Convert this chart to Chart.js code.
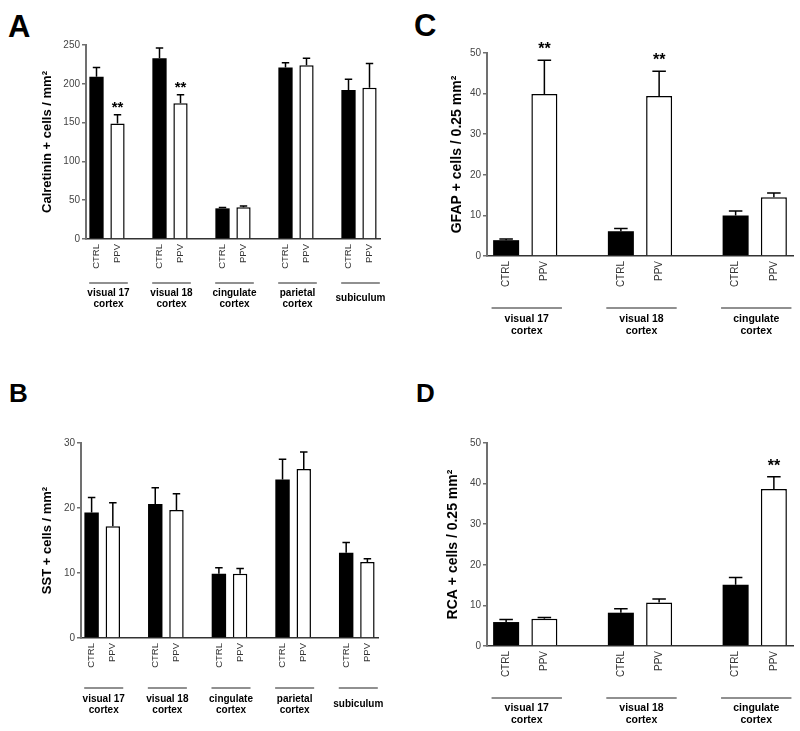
<!DOCTYPE html>
<html>
<head>
<meta charset="utf-8">
<script src="https://cdn.jsdelivr.net/npm/chart.js@4.4.1/dist/chart.umd.min.js"></script>
<style>
  body { margin: 0; background: #fff; }
  #wrap { position: relative; width: 800px; height: 731px; overflow: hidden; }
  canvas { position: absolute; }
  .letter { position: absolute; font-family: 'Liberation Sans', Arial, sans-serif; font-weight: bold; line-height: 1; color: #000; }
</style>
</head>
<body>
<div id="wrap">
  <div class="letter" style="left:8px;top:11px;font-size:31px">A</div>
  <div class="letter" style="left:414px;top:10px;font-size:31px">C</div>
  <div class="letter" style="left:9px;top:380px;font-size:26px">B</div>
  <div class="letter" style="left:416px;top:380px;font-size:26px">D</div>
  <canvas id="chartA" width="400" height="360" style="left:0;top:0"></canvas>
  <canvas id="chartC" width="400" height="360" style="left:400px;top:0"></canvas>
  <canvas id="chartB" width="400" height="371" style="left:0;top:360px"></canvas>
  <canvas id="chartD" width="400" height="371" style="left:400px;top:360px"></canvas>
</div>
<script>
const FONT = "'Liberation Sans', Arial, sans-serif";

const regionsFive = [["visual 17", "cortex"], ["visual 18", "cortex"], ["cingulate", "cortex"], ["parietal", "cortex"], ["subiculum"]];
const regionsThree = [["visual 17", "cortex"], ["visual 18", "cortex"], ["cingulate", "cortex"]];

// A - calretinin
const calretininCtrl = [209, 233, 39.5, 221, 192];
const calretininCtrlErr = [12, 13, 1.2, 6, 14];
const calretininPpv = [149, 175, 41, 224, 195];
const calretininPpvErr = [11, 11, 1.5, 9, 31];
const calretininSig = ["**", "**", "", "", ""];

// B - SST
const sstCtrl = [19.3, 20.6, 9.9, 24.4, 13.1];
const sstCtrlErr = [2.3, 2.5, 0.9, 3.1, 1.6];
const sstPpv = [17.2, 19.7, 9.9, 26.0, 11.7];
const sstPpvErr = [3.6, 2.5, 0.8, 2.6, 0.5];
const sstSig = ["", "", "", "", ""];

// C - GFAP
const gfapCtrl = [3.9, 6.1, 10.0];
const gfapCtrlErr = [0.3, 0.7, 1.1];
const gfapPpv = [39.9, 39.4, 14.5];
const gfapPpvErr = [8.3, 6.1, 1.0];
const gfapSig = ["**", "**", ""];

// D - RCA
const rcaCtrl = [5.9, 8.2, 15.1];
const rcaCtrlErr = [0.6, 1.0, 1.8];
const rcaPpv = [6.7, 10.7, 38.7];
const rcaPpvErr = [0.3, 0.9, 3.0];
const rcaSig = ["", "", "**"];

// error bars (upward only) and significance stars
const errorBars = {
  id: 'errorBars',
  afterDatasetsDraw(chart, args, opts) {
    const ctx = chart.ctx;
    const y = chart.scales.y;
    ctx.save();
    chart.data.datasets.forEach((ds, di) => {
      const meta = chart.getDatasetMeta(di);
      meta.data.forEach((bar, i) => {
        const v = ds.data[i];
        if (v == null) return;
        const top = y.getPixelForValue(v + ds.errors[i]);
        const half = bar.width * 0.26;
        ctx.strokeStyle = '#000';
        ctx.lineWidth = 1.5;
        ctx.beginPath();
        ctx.moveTo(bar.x, bar.y);
        ctx.lineTo(bar.x, top);
        ctx.moveTo(bar.x - half, top);
        ctx.lineTo(bar.x + half, top);
        ctx.stroke();
        const mark = ds.marks && ds.marks[i];
        if (mark) {
          ctx.fillStyle = '#000';
          ctx.font = 'bold ' + opts.starSize + 'px ' + FONT;
          ctx.textAlign = 'center';
          ctx.textBaseline = 'alphabetic';
          ctx.fillText(mark, bar.x, top - opts.starGap);
        }
      });
    });
    ctx.restore();
  }
};

// region names with a rule above them
const groupLabels = {
  id: 'groupLabels',
  afterDraw(chart, args, opts) {
    const ctx = chart.ctx;
    const x = chart.scales.x;
    const bottom = chart.chartArea.bottom;
    const slot = x.getPixelForValue(1) - x.getPixelForValue(0);
    ctx.save();
    opts.groups.forEach((lines, g) => {
      const cx = (x.getPixelForValue(3 * g) + x.getPixelForValue(3 * g + 1)) / 2 + 1.5;
      const hw = slot * 0.92;
      ctx.strokeStyle = '#222';
      ctx.lineWidth = 1.2;
      ctx.beginPath();
      ctx.moveTo(cx - hw, bottom + opts.lineGap);
      ctx.lineTo(cx + hw, bottom + opts.lineGap);
      ctx.stroke();
      ctx.fillStyle = '#000';
      ctx.font = 'bold ' + opts.size + 'px ' + FONT;
      ctx.textAlign = 'center';
      ctx.textBaseline = 'middle';
      if (lines.length === 1) {
        ctx.fillText(lines[0], cx, bottom + (opts.text1 + opts.text2) / 2);
      } else {
        ctx.fillText(lines[0], cx, bottom + opts.text1);
        ctx.fillText(lines[1], cx, bottom + opts.text2);
      }
    });
    ctx.restore();
  }
};

function barPanel(id, cfg) {
  const labels = [], ctrlData = [], ppvData = [], ctrlErr = [], ppvErr = [], marks = [];
  const n = cfg.ctrl.length;
  for (let g = 0; g < n; g++) {
    labels.push('CTRL', 'PPV');
    ctrlData.push(cfg.ctrl[g], null);
    ppvData.push(null, cfg.ppv[g]);
    ctrlErr.push(cfg.ctrlErr[g], null);
    ppvErr.push(null, cfg.ppvErr[g]);
    marks.push('', cfg.sig[g]);
    if (g < n - 1) {
      labels.push('');
      ctrlData.push(null); ppvData.push(null);
      ctrlErr.push(null); ppvErr.push(null);
      marks.push('');
    }
  }

  return new Chart(document.getElementById(id), {
    type: 'bar',
    data: {
      labels: labels,
      datasets: [
        {
          label: 'CTRL', data: ctrlData, errors: ctrlErr,
          backgroundColor: '#000', borderColor: '#000', borderWidth: 0,
          grouped: false, barPercentage: 0.68, categoryPercentage: 1
        },
        {
          label: 'PPV', data: ppvData, errors: ppvErr, marks: marks,
          backgroundColor: '#fff', borderColor: '#000', borderWidth: 1.5,
          grouped: false, barPercentage: 0.68, categoryPercentage: 1
        }
      ]
    },
    options: {
      responsive: false,
      animation: false,
      devicePixelRatio: 1,
      layout: { padding: cfg.padding },
      plugins: {
        legend: { display: false },
        tooltip: { enabled: false },
        errorBars: { starSize: cfg.starSize, starGap: cfg.starGap },
        groupLabels: Object.assign({ groups: cfg.groups }, cfg.groupPos)
      },
      scales: {
        x: {
          grid: { display: false, drawTicks: false },
          border: { display: true, color: '#333', width: 1.5 },
          ticks: {
            autoSkip: false, minRotation: 90, maxRotation: 90, padding: 5,
            color: '#333', font: { family: FONT, size: cfg.tickSize }
          },
          afterFit: s => { s.height = 40; }
        },
        y: {
          min: 0, max: cfg.max,
          grid: { display: true, drawOnChartArea: false, drawTicks: true, tickLength: 4, color: '#707070', lineWidth: 1.5 },
          border: { display: true, color: '#707070', width: 2 },
          ticks: { stepSize: cfg.step, padding: 2, color: '#444', font: { family: FONT, size: 10 } },
          title: {
            display: true, text: cfg.title, color: '#000',
            font: { family: FONT, size: cfg.titleSize, weight: 'bold', lineHeight: 1.2 },
            padding: { top: cfg.titlePad, bottom: 0 }
          },
          afterFit: s => { s.width = cfg.yWidth; }
        }
      }
    },
    plugins: [errorBars, groupLabels]
  });
}

barPanel('chartA', {
  ctrl: calretininCtrl, ctrlErr: calretininCtrlErr, ppv: calretininPpv, ppvErr: calretininPpvErr, sig: calretininSig,
  groups: regionsFive, max: 250, step: 50, title: 'Calretinin + cells / mm²',
  titleSize: 13, titlePad: 40, yWidth: 86, tickSize: 9.5,
  padding: { left: 0, top: 45, right: 20, bottom: 81 },
  starSize: 15, starGap: 3,
  groupPos: { lineGap: 44, text1: 54, text2: 65, size: 10 }
});

barPanel('chartC', {
  ctrl: gfapCtrl, ctrlErr: gfapCtrlErr, ppv: gfapPpv, ppvErr: gfapPpvErr, sig: gfapSig,
  groups: regionsThree, max: 50, step: 10, title: 'GFAP + cells / 0.25 mm²',
  titleSize: 14, titlePad: 49, yWidth: 87, tickSize: 10,
  padding: { left: 0, top: 53, right: 7, bottom: 64 },
  starSize: 16, starGap: 6,
  groupPos: { lineGap: 52, text1: 63, text2: 75, size: 10.5 }
});

barPanel('chartB', {
  ctrl: sstCtrl, ctrlErr: sstCtrlErr, ppv: sstPpv, ppvErr: sstPpvErr, sig: sstSig,
  groups: regionsFive, max: 30, step: 10, title: 'SST + cells / mm²',
  titleSize: 13, titlePad: 40, yWidth: 81, tickSize: 9.5,
  padding: { left: 0, top: 83, right: 22, bottom: 53 },
  starSize: 15, starGap: 3,
  groupPos: { lineGap: 50, text1: 61, text2: 72, size: 10 }
});

barPanel('chartD', {
  ctrl: rcaCtrl, ctrlErr: rcaCtrlErr, ppv: rcaPpv, ppvErr: rcaPpvErr, sig: rcaSig,
  groups: regionsThree, max: 50, step: 10, title: 'RCA + cells / 0.25 mm²',
  titleSize: 14, titlePad: 45, yWidth: 87, tickSize: 10,
  padding: { left: 0, top: 83, right: 7, bottom: 45 },
  starSize: 16, starGap: 6,
  groupPos: { lineGap: 52, text1: 62, text2: 74, size: 10.5 }
});
</script>
</body>
</html>
